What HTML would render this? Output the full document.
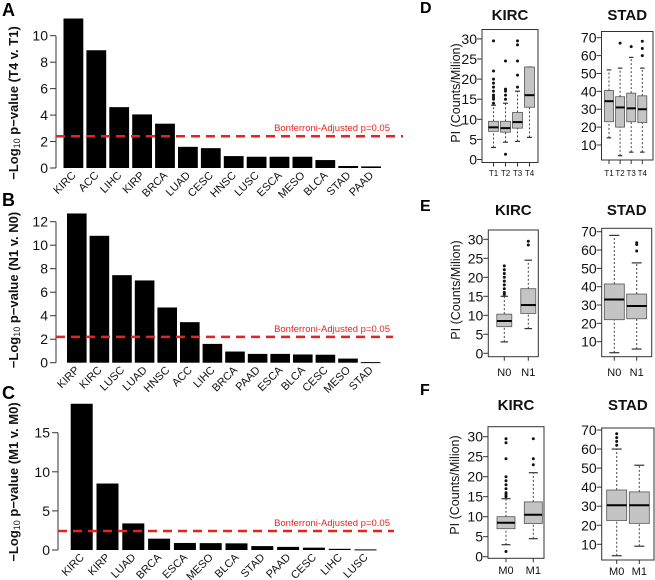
<!DOCTYPE html>
<html><head><meta charset="utf-8">
<style>
html,body{margin:0;padding:0;background:#fff;}
svg{display:block;font-family:"Liberation Sans",Arial,sans-serif;}
</style></head>
<body>
<svg id="fig" width="655" height="580" viewBox="0 0 655 580" xmlns="http://www.w3.org/2000/svg">
  <text x="2" y="16" font-size="18" font-weight="bold">A</text>
  <text x="2" y="206" font-size="18" font-weight="bold">B</text>
  <text x="2" y="399" font-size="18" font-weight="bold">C</text>
  <text x="420" y="13" font-size="16" font-weight="bold">D</text>
  <text x="420" y="211" font-size="16" font-weight="bold">E</text>
  <text x="420" y="395" font-size="16" font-weight="bold">F</text>
</svg>
<script>
// ---- Bar chart data ----
const catsA = ["KIRC","ACC","LIHC","KIRP","BRCA","LUAD","CESC","HNSC","LUSC","ESCA","MESO","BLCA","STAD","PAAD"];
const valsA = [11.3,8.9,4.6,4.05,3.35,1.6,1.5,0.9,0.85,0.85,0.85,0.6,0.15,0.12];
const ticksA = [0,2,4,6,8,10];
const threshA = 2.4;
const catsB = ["KIRP","KIRC","LUSC","LUAD","HNSC","ACC","LIHC","BRCA","PAAD","ESCA","BLCA","CESC","MESO","STAD"];
const valsB = [12.7,10.8,7.45,7.0,4.7,3.45,1.6,0.95,0.75,0.75,0.7,0.68,0.35,0.05];
const ticksB = [0,2,4,6,8,10,12];
const threshB = 2.2;
const catsC = ["KIRC","KIRP","LUAD","BRCA","ESCA","MESO","BLCA","STAD","PAAD","CESC","LIHC","LUSC"];
const valsC = [18.7,8.5,3.4,1.45,0.9,0.88,0.85,0.5,0.4,0.3,0.15,0.08];
const ticksC = [0,5,10,15];
const threshC = 2.43;

// ---- Box plot data: [low whisker, q1, median, q3, high whisker] ----
const groupsD = ["T1","T2","T3","T4"];
const kircD = [[3,7,8,9.5,13.5],[4.3,6.8,7.8,9.5,14],[4.5,7.8,9.3,11.7,17],[5.5,13,16,23,23]];
const kircDOut = [[14,15,15.5,16,17,18,19,20,22,29.5],[1.3,15,16,17,17.5,24.5],[18,21,24.5,28.5,29.5],[]];
const stadD = [[14,23,34.5,40.5,52],[4,20,31,37,53],[6,23,30.5,39,59],[6,22.5,30,37.5,53]];
const stadDOut = [[],[67],[65],[60,64,68]];
const groupsE = ["N0","N1"];
const kircE = [[3,7,8.5,10.3,15],[6.5,10.5,12.7,17,24.5]];
const kircEOut = [[15.5,16,17,18,19,20,21,22,23],[28.5,29.5]];
const stadE = [[4,22,33,41.5,68],[6,22.5,29.5,36,53]];
const stadEOut = [[],[59.5,63,64]];
const groupsF = ["M0","M1"];
const kircF = [[3,7,8.5,10,14.5],[4.5,8.3,10.5,13.7,21]];
const kircFOut = [[1.3,15,15.5,16,17,18,19,20,24.5,28.5,29.5],[23,24.5,29.5]];
const stadF = [[4,22.5,30.5,38.5,60],[9,21,30.5,37.5,51.5]];
const stadFOut = [[62,64,66,68],[]];
const kircTicks = [0,5,10,15,20,25,30];
const stadTicks = [10,20,30,40,50,60,70];

const NS = "http://www.w3.org/2000/svg";
const svg = document.getElementById("fig");
function mk(tag, attrs, parent) {
  const e = document.createElementNS(NS, tag);
  for (const k in attrs) e.setAttribute(k, attrs[k]);
  (parent || svg).appendChild(e);
  return e;
}

function barChart(id, cats, vals, ticks, thresh, L) {
  const g = mk("g", {});
  
  
  const y = v => L.y0 - v * L.ppu;
  const x = i => L.x0 + i * L.step;
  const ax = mk("line", {x1: L.ax, x2: L.ax, y1: y(0), y2: y(ticks[ticks.length-1]), stroke: "#333", "stroke-width": 1}, g);
  
  
  ticks.forEach(t => {
    const tl = mk("line", {x1: L.ax - 6, x2: L.ax, y1: y(t), y2: y(t), stroke: "#333", "stroke-width": 1}, g);
    
    
    const tt = mk("text", {x: L.ax - 8, y: y(t) + 5, "font-size": 14, "text-anchor": "end", fill: "#111"}, g);
    tt.textContent = t;
    
    
  });
  vals.forEach((v, i) => {
    const r = mk("rect", {x: x(i), y: y(v), width: L.bw, height: Math.max(1, v * L.ppu), fill: "#000"}, g);
    
    
    const cx = x(i) + L.bw / 2 + 3;
    const lt = mk("text", {x: cx, y: L.y0 + 8, "font-size": 11, "text-anchor": "end", fill: "#111",
      transform: `rotate(-45 ${cx} ${L.y0 + 8})`}, g);
    lt.textContent = cats[i];
    
    
  });
  const dl = mk("line", {x1: L.ax, x2: L.dEnd, y1: y(thresh), y2: y(thresh), stroke: "#e8231f", "stroke-width": 2.5, "stroke-dasharray": "9,6"}, g);
  
  
  const tt = mk("text", {x: 390, y: y(thresh) - 5, "font-size": 9.5, "text-anchor": "end", fill: "#e8231f"}, g);
  tt.textContent = "Bonferroni-Adjusted p=0.05";
  
  
  const yt = mk("text", {x: L.tx, y: L.ty, "font-size": 13, "font-weight": "bold", "text-anchor": "middle", fill: "#111",
    transform: `rotate(-90 ${L.tx} ${L.ty})`}, g);
  yt.innerHTML = '−Log<tspan font-size="9" font-weight="normal" dy="2">10</tspan><tspan dy="-2"> p−value (' + L.title + ')</tspan>';
  
  
}

barChart("a", catsA, valsA, ticksA, threshA, {x0: 63.5, step: 22.9, bw: 19.8, y0: 168, ppu: 13.23, ax: 56, dEnd: 403, tx: 18, ty: 103, title: "T4 v. T1"});
barChart("b", catsB, valsB, ticksB, threshB, {x0: 67, step: 22.6, bw: 19.6, y0: 362.7, ppu: 11.75, ax: 56, dEnd: 393, tx: 18, ty: 290, title: "N1 v. N0"});
barChart("c", catsC, valsC, ticksC, threshC, {x0: 70.7, step: 25.8, bw: 22, y0: 550, ppu: 7.82, ax: 58, dEnd: 394, tx: 18, ty: 482, title: "M1 v. M0"});

function boxPlot(name, title, groups, stats, outs, ticks, L) {
  const g = mk("g", {});
  
  
  const y = v => L.y0 - (v - L.v0) * L.ppu;
  const fr = mk("rect", {x: L.fx1, y: L.fy1, width: L.fx2 - L.fx1, height: L.fy2 - L.fy1, fill: "none", stroke: "#333", "stroke-width": 1}, g);
  
  
  ticks.forEach(t => {
    const tl = mk("line", {x1: L.fx1 - 5, x2: L.fx1, y1: y(t), y2: y(t), stroke: "#333"}, g);
    
    
    const tt = mk("text", {x: L.fx1 - 5, y: y(t) + 5, "font-size": 14, "text-anchor": "end", fill: "#111"}, g);
    tt.textContent = t;
    
    
  });
  const ttl = mk("text", {x: (L.fx1 + L.fx2) / 2, y: L.titleY, "font-size": 15, "font-weight": "bold", "text-anchor": "middle", fill: "#111"}, g);
  ttl.textContent = title;
  
  
  groups.forEach((gn, i) => {
    const cx = L.c0 + i * L.step, hw = L.bw / 2, s = stats[i];
    const tk = mk("line", {x1: cx, x2: cx, y1: L.fy2, y2: L.fy2 + 4, stroke: "#333"}, g);
    
    
    const lb = mk("text", {x: cx, y: L.labY, "font-size": L.labFs, "text-anchor": "middle", fill: "#111"}, g);
    lb.textContent = gn;
    
    
    const w1 = mk("line", {x1: cx, x2: cx, y1: y(s[0]), y2: y(s[1]), stroke: "#444", "stroke-dasharray": "2,2"}, g);
    
    
    const w2 = mk("line", {x1: cx, x2: cx, y1: y(s[3]), y2: y(s[4]), stroke: "#444", "stroke-dasharray": "2,2"}, g);
    
    
    [s[0], s[4]].forEach(v => {
      const c = mk("line", {x1: cx - hw * 0.5, x2: cx + hw * 0.5, y1: y(v), y2: y(v), stroke: "#333", "stroke-width": 1.2}, g);
      
      
    });
    const bx = mk("rect", {x: cx - hw, y: y(s[3]), width: L.bw, height: y(s[1]) - y(s[3]), fill: "#c4c4c4", stroke: "#555", "stroke-width": 0.8}, g);
    
    
    const md = mk("line", {x1: cx - hw, x2: cx + hw, y1: y(s[2]), y2: y(s[2]), stroke: "#000", "stroke-width": 2}, g);
    
    
    outs[i].forEach(v => {
      const o = mk("circle", {cx: cx, cy: y(v), r: 1.5, fill: "#111"}, g);
      
      
    });
  });
}

function pTitle(x, y) {
  const t = mk("text", {x: x, y: y, "font-size": 12.5, "text-anchor": "middle", fill: "#111", transform: `rotate(-90 ${x} ${y})`});
  t.textContent = "PI (Counts/Milion)";
  
  
}

boxPlot("kirc-t-stage-boxplot", "KIRC", groupsD, kircD, kircDOut, kircTicks,
  {fx1: 482, fx2: 538, fy1: 29.5, fy2: 162.5, y0: 159.5, v0: 0, ppu: 4.02, c0: 493.5, step: 12, bw: 10, titleY: 20, labY: 176, labFs: 8});
boxPlot("stad-t-stage-boxplot", "STAD", groupsD, stadD, stadDOut, stadTicks,
  {fx1: 601.5, fx2: 653, fy1: 31.5, fy2: 160, y0: 145, v0: 10, ppu: 1.788, c0: 609, step: 11.1, bw: 9, titleY: 20, labY: 176, labFs: 8});
pTitle(460, 93);
boxPlot("kirc-n-stage-boxplot", "KIRC", groupsE, kircE, kircEOut, kircTicks,
  {fx1: 488.3, fx2: 538.3, fy1: 230, fy2: 356.7, y0: 353.3, v0: 0, ppu: 3.8, c0: 504.3, step: 24, bw: 15, titleY: 215, labY: 376, labFs: 11});
boxPlot("stad-n-stage-boxplot", "STAD", groupsE, stadE, stadEOut, stadTicks,
  {fx1: 601.7, fx2: 651.7, fy1: 228.3, fy2: 356.7, y0: 341.7, v0: 10, ppu: 1.833, c0: 614.3, step: 22.4, bw: 20, titleY: 215, labY: 376, labFs: 11});
pTitle(460, 290);
boxPlot("kirc-m-stage-boxplot", "KIRC", groupsF, kircF, kircFOut, kircTicks,
  {fx1: 488, fx2: 544, fy1: 426.7, fy2: 558.3, y0: 556.7, v0: 0, ppu: 4, c0: 506, step: 27.3, bw: 18, titleY: 410, labY: 574, labFs: 11});
boxPlot("stad-m-stage-boxplot", "STAD", groupsF, stadF, stadFOut, stadTicks,
  {fx1: 601.7, fx2: 654, fy1: 428, fy2: 560, y0: 544.3, v0: 10, ppu: 1.905, c0: 616.7, step: 22.6, bw: 20, titleY: 410, labY: 575, labFs: 11});
pTitle(459, 485);
</script>
</body></html>
